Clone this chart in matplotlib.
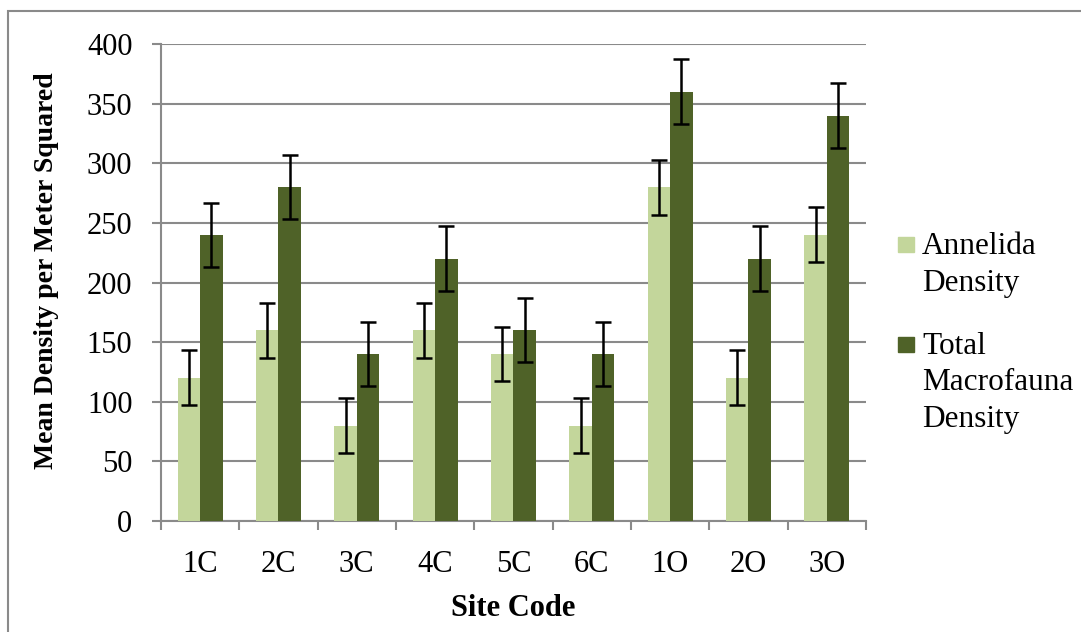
import matplotlib.pyplot as plt
import numpy as np
from matplotlib.patches import Rectangle

sites = ['1C', '2C', '3C', '4C', '5C', '6C', '1O', '2O', '3O']
annelida = [120, 160, 80, 160, 140, 80, 280, 120, 240]
total = [240, 280, 140, 220, 160, 140, 360, 220, 340]
annelida_err = [23, 23, 23, 23, 23, 23, 23, 23, 23]
total_err = [27, 27, 27, 27, 27, 27, 27, 27, 27]
legend_labels = [['Annelida', 'Density'], ['Total', 'Macrofauna', 'Density']]

LIGHT = '#C3D69B'
DARK = '#4F6228'
GRID = '#8A8A8A'

plt.rcParams['font.family'] = ['Liberation Serif', 'DejaVu Serif']

W, H = 1081, 632
fig = plt.figure(figsize=(W / 100, H / 100), dpi=100)
ax = fig.add_axes([0.1489, 0.1756, 0.8011 - 0.1489, 0.9304 - 0.1756])

x = np.arange(len(sites))
w = 0.287
err_style = dict(ecolor='black', elinewidth=1.8, capsize=5.5, capthick=1.8)
ax.bar(x - w / 2, annelida, w, color=LIGHT, yerr=annelida_err,
       error_kw=err_style, zorder=3)
ax.bar(x + w / 2, total, w, color=DARK, yerr=total_err,
       error_kw=err_style, zorder=3)

ax.set_xlim(-0.5, len(sites) - 0.5)
ax.set_ylim(0, 400)
ax.set_yticks(range(0, 401, 50))
ax.set_xticks(np.arange(-0.5, len(sites), 1.0), minor=True)
ax.set_xticks(x)
ax.set_xticklabels(sites)

ax.yaxis.grid(True, color=GRID, linewidth=1.5, zorder=0)
ax.set_axisbelow(True)
for s in ['top', 'right']:
    ax.spines[s].set_visible(False)
for s in ['left', 'bottom']:
    ax.spines[s].set_color(GRID)
    ax.spines[s].set_linewidth(1.5)

ax.tick_params(axis='x', which='major', length=0, labelsize=22, pad=21)
ax.tick_params(axis='x', which='minor', length=6.5, width=1.5, color=GRID)
ax.tick_params(axis='y', length=6.5, width=1.5, color=GRID, labelsize=22, pad=14)

ax.set_xlabel('Site Code', fontsize=22, fontweight='bold', labelpad=11)
ax.set_ylabel('Mean Density per Meter Squared', fontsize=20, fontweight='bold')
ax.yaxis.set_label_coords((59 - 161) / 705, 0.524)

# legend drawn by hand so the swatch sits on the first line of the label
line_step = 36.5
for color, lines, base in zip([LIGHT, DARK], legend_labels, [254, 354]):
    fig.patches.append(Rectangle((898 / W, 1 - (base - 2) / H), 16 / W, 15 / H,
                                 transform=fig.transFigure, color=color))
    for i, line in enumerate(lines):
        fig.text(922 / W, 1 - (base + i * line_step) / H, line, fontsize=22.5,
                 va='baseline', ha='left')

fig.patches.append(Rectangle((8 / W, -0.05), 1.1, 1.05 - 11 / H,
                             transform=fig.transFigure, fill=False,
                             edgecolor=GRID, linewidth=1.5))

fig.savefig('out.png', dpi=100)
